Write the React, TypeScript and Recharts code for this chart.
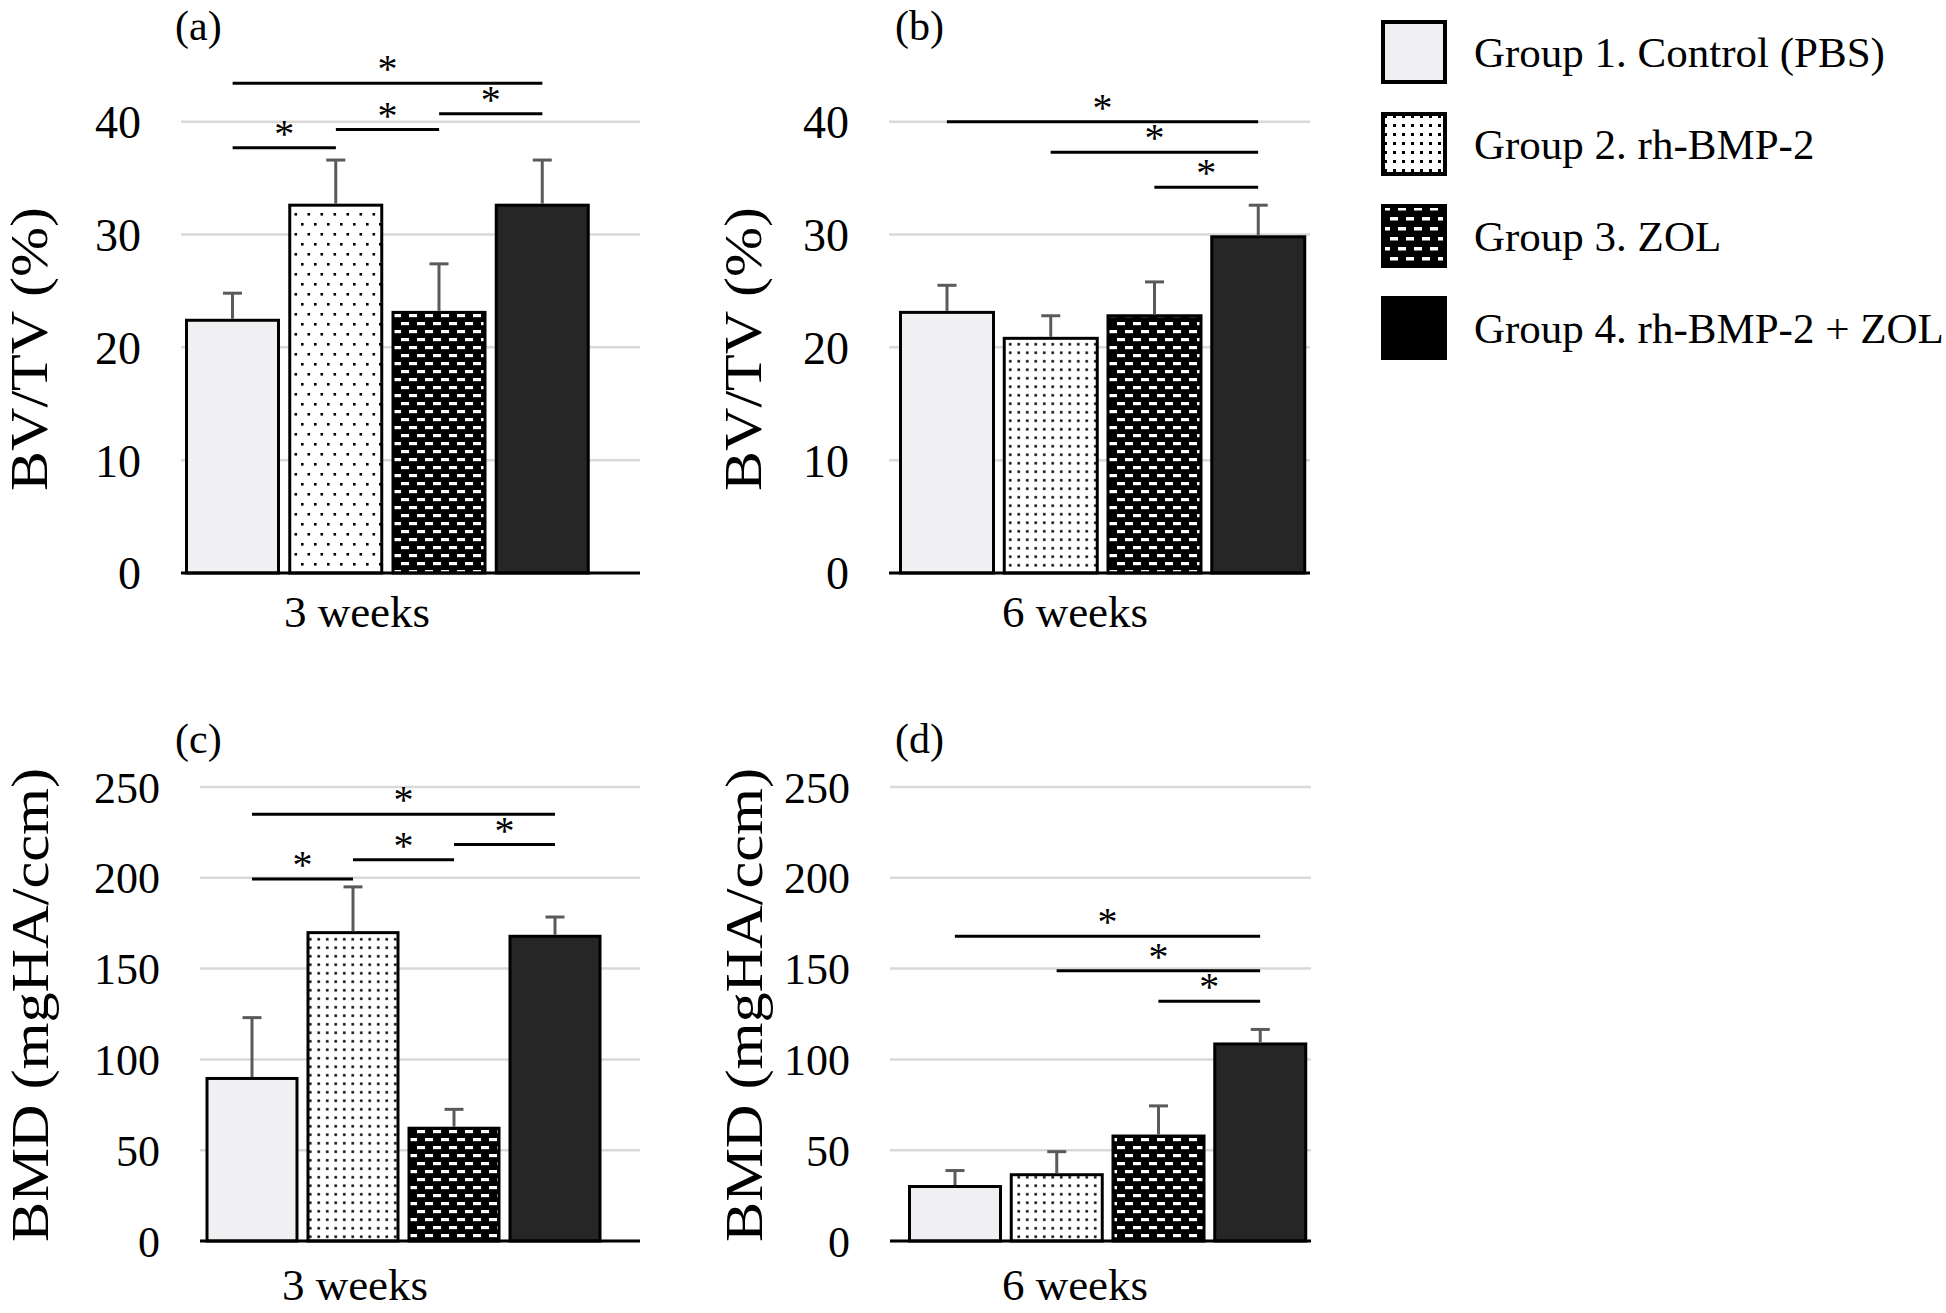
import React from "react";
import { Bar, BarChart, CartesianGrid, ReferenceLine, XAxis, YAxis } from "recharts";

const SERIF = "'Liberation Serif', 'Times New Roman', serif";

const GROUPS = [
  "Group 1. Control (PBS)",
  "Group 2. rh-BMP-2",
  "Group 3. ZOL",
  "Group 4. rh-BMP-2 + ZOL",
];
const GROUP_KEYS = ["g1", "g2", "g3", "g4"];

const BVTV_TICKS = [0, 10, 20, 30, 40];
const BMD_TICKS = [0, 50, 100, 150, 200, 250];

// BV/TV (%), mean and upper SD per group
const BVTV_3W = [22.4, 32.6, 23.1, 32.6];
const BVTV_3W_SD = [2.4, 4.0, 4.3, 4.0];
const BVTV_6W = [23.1, 20.8, 22.8, 29.8];
const BVTV_6W_SD = [2.4, 2.0, 3.0, 2.8];

// BMD (mgHA/ccm)
const BMD_3W = [89.5, 169.8, 62.1, 167.8];
const BMD_3W_SD = [33.5, 25.2, 10.4, 10.6];
const BMD_6W = [30.0, 36.5, 57.8, 108.5];
const BMD_6W_SD = [8.8, 12.7, 16.6, 8.0];

// significance brackets: [from group, to group, height on y axis]
const BVTV_3W_SIG = [[0, 3, 43.4], [0, 1, 37.7], [1, 2, 39.3], [2, 3, 40.7]];
const BVTV_6W_SIG = [[0, 3, 40.0], [1, 3, 37.3], [2, 3, 34.2]];
const BMD_3W_SIG = [[0, 3, 235], [0, 1, 199.3], [1, 2, 210], [2, 3, 218.3]];
const BMD_6W_SIG = [[0, 3, 167.8], [1, 3, 148.8], [2, 3, 132]];

const FILLS_SPARSE = ["#f0f0f2", "url(#dotsSparse)", "url(#bricks)", "#262626"];
const FILLS = ["#f0f0f2", "url(#dots)", "url(#bricks)", "#262626"];
const LEGEND_FILLS = ["#f0f0f2", "url(#dotsLegend)", "url(#bricksLegend)", "#000"];

interface Row {
  key: string;
  idx: number;
  mean: number;
  sd: number;
}

function buildRows(means: number[], sds: number[]): Row[] {
  return GROUP_KEYS.map((key, i) => ({ key, idx: i, mean: means[i], sd: sds[i] }));
}

const PANELS = [
  {
    id: "a", letter: "(a)", left: 0, top: 0, width: 660, height: 650,
    margin: { top: 54, right: 20, bottom: 17, left: 81 }, pad: { left: 0, right: 46 },
    yMax: 46, ticks: BVTV_TICKS, fontSize: 46, means: BVTV_3W, sds: BVTV_3W_SD, sig: BVTV_3W_SIG,
    fills: FILLS_SPARSE, yTitle: "BV/TV (%)", yPos: [47, 349], ySpan: 284,
    xTitle: "3 weeks", xPos: [357, 627], letterPos: [175, 5],
  },
  {
    id: "b", letter: "(b)", left: 700, top: 0, width: 630, height: 650,
    margin: { top: 54, right: 20, bottom: 17, left: 89 }, pad: { left: 6, right: 0 },
    yMax: 46, ticks: BVTV_TICKS, fontSize: 46, means: BVTV_6W, sds: BVTV_6W_SD, sig: BVTV_6W_SIG,
    fills: FILLS, yTitle: "BV/TV (%)", yPos: [61, 349], ySpan: 284,
    xTitle: "6 weeks", xPos: [375, 627], letterPos: [895, 5],
  },
  {
    id: "c", letter: "(c)", left: 0, top: 680, width: 660, height: 633,
    margin: { top: 85.2, right: 20, bottom: 12, left: 100 }, pad: { left: 1.5, right: 34.5 },
    yMax: 262, ticks: BMD_TICKS, fontSize: 44, means: BMD_3W, sds: BMD_3W_SD, sig: BMD_3W_SIG,
    fills: FILLS, yTitle: "BMD (mgHA/ccm)", yPos: [48, 325], ySpan: 474,
    xTitle: "3 weeks", xPos: [355, 620], letterPos: [175, 718],
  },
  {
    id: "d", letter: "(d)", left: 700, top: 680, width: 630, height: 633,
    margin: { top: 85.2, right: 19, bottom: 12, left: 90 }, pad: { left: 14, right: 0 },
    yMax: 262, ticks: BMD_TICKS, fontSize: 44, means: BMD_6W, sds: BMD_6W_SD, sig: BMD_6W_SIG,
    fills: FILLS, yTitle: "BMD (mgHA/ccm)", yPos: [62, 325], ySpan: 474,
    xTitle: "6 weeks", xPos: [375, 620], letterPos: [895, 718],
  },
];

type PanelCfg = (typeof PANELS)[number];

export default function App() {
  return (
    <div
      style={{
        position: "absolute", left: 0, top: 0, width: 1946, height: 1313,
        background: "#fff", overflow: "hidden", fontFamily: SERIF,
      }}
    >
      <PatternDefs />
      {PANELS.map((p) => (
        <Panel key={p.id} cfg={p} />
      ))}
      {PANELS.map((p) => (
        <div
          key={`l-${p.id}`}
          style={{
            position: "absolute", left: p.letterPos[0], top: p.letterPos[1],
            fontSize: 42, lineHeight: "42px", color: "#000",
          }}
        >
          {p.letter}
        </div>
      ))}
      <Legend />
    </div>
  );
}

function Panel({ cfg }: { cfg: PanelCfg }) {
  const data = buildRows(cfg.means, cfg.sds);
  return (
    <div style={{ position: "absolute", left: cfg.left, top: cfg.top }}>
      <BarChart
        width={cfg.width}
        height={cfg.height}
        data={data}
        margin={cfg.margin}
        barCategoryGap={5.5}
      >
        <CartesianGrid
          vertical={false}
          horizontalValues={cfg.ticks}
          stroke="#d9d9d9"
          strokeWidth={2.5}
        />
        <XAxis
          dataKey="key"
          tick={false}
          tickLine={false}
          axisLine={{ stroke: "#000", strokeWidth: 3 }}
          height={60}
          padding={cfg.pad}
          label={<AxisTitle tx={cfg.xPos[0]} ty={cfg.xPos[1]} caption={cfg.xTitle} size={45} />}
        />
        <YAxis
          width={100}
          domain={[0, cfg.yMax]}
          ticks={cfg.ticks}
          interval={0}
          tickSize={0}
          tickMargin={40}
          tickLine={false}
          axisLine={false}
          tick={{ fill: "#000", fontSize: cfg.fontSize, fontFamily: SERIF }}
          label={
            <AxisTitle
              tx={cfg.yPos[0]}
              ty={cfg.yPos[1]}
              caption={cfg.yTitle}
              size={52}
              span={cfg.ySpan}
              vertical
            />
          }
        />
        <Bar
          dataKey="mean"
          isAnimationActive={false}
          shape={(p: any) => <GroupBar {...p} fills={cfg.fills} />}
        />
        {cfg.sig.map(([a, b, y], i) => (
          <ReferenceLine
            key={i}
            segment={[
              { x: GROUP_KEYS[a], y },
              { x: GROUP_KEYS[b], y },
            ]}
            stroke="#000"
            strokeWidth={3}
            label={{
              value: "*", position: "top", offset: 1,
              fill: "#000", fontSize: 40, fontFamily: SERIF,
            }}
          />
        ))}
      </BarChart>
    </div>
  );
}

// bar rect + one-sided (upper) SD whisker
function GroupBar(props: any) {
  const { x, y, width, height, payload, fills } = props;
  const row = payload as Row;
  const errPx = row.mean > 0 ? (row.sd * height) / row.mean : 0;
  const cx = x + width / 2;
  const top = y - errPx;
  return (
    <g>
      <rect
        x={x} y={y} width={width} height={height}
        fill={fills[row.idx]} stroke="#000" strokeWidth={3}
      />
      <line x1={cx} x2={cx} y1={y - 1.5} y2={top} stroke="#5a5a5a" strokeWidth={3} />
      <line x1={cx - 9.5} x2={cx + 9.5} y1={top} y2={top} stroke="#5a5a5a" strokeWidth={3} />
    </g>
  );
}

function AxisTitle({
  tx, ty, caption, size, span, vertical,
}: {
  tx: number; ty: number; caption: string; size: number; span?: number; vertical?: boolean;
}) {
  return (
    <text
      x={tx}
      y={ty}
      textAnchor="middle"
      fontFamily={SERIF}
      fontSize={size}
      fill="#000"
      textLength={span}
      lengthAdjust={span ? "spacingAndGlyphs" : undefined}
      transform={vertical ? `rotate(-90 ${tx} ${ty})` : undefined}
    >
      {caption}
    </text>
  );
}

function Legend() {
  return (
    <div style={{ position: "absolute", left: 1381, top: 6 }}>
      {GROUPS.map((g, i) => (
        <div key={g} style={{ display: "flex", alignItems: "center", height: 92 }}>
          <svg width={66} height={64}>
            <rect x={2} y={2} width={62} height={60} fill={LEGEND_FILLS[i]} stroke="#000" strokeWidth={4} />
          </svg>
          <span style={{ marginLeft: 27, fontSize: 43, color: "#000", whiteSpace: "nowrap" }}>{g}</span>
        </div>
      ))}
    </div>
  );
}

function PatternDefs() {
  return (
    <svg width={0} height={0} style={{ position: "absolute" }}>
      <defs>
        <pattern id="dotsSparse" width={13} height={20} patternUnits="userSpaceOnUse">
          <rect width={13} height={20} fill="#fff" />
          <rect x={2} y={3} width={2.6} height={2.6} fill="#000" />
          <rect x={8.5} y={13} width={2.6} height={2.6} fill="#000" />
        </pattern>
        <pattern id="dots" width={8.5} height={8.5} patternUnits="userSpaceOnUse">
          <rect width={8.5} height={8.5} fill="#fff" />
          <rect x={3} y={3} width={2.5} height={2.5} fill="#000" />
        </pattern>
        <pattern id="dotsLegend" width={9} height={9} patternUnits="userSpaceOnUse">
          <rect width={9} height={9} fill="#fff" />
          <rect x={3} y={3} width={3} height={3} fill="#000" />
        </pattern>
        <pattern id="bricks" width={16} height={16} patternUnits="userSpaceOnUse">
          <rect width={16} height={16} fill="#000" />
          <rect x={1} y={2} width={8} height={3.2} fill="#fff" />
          <rect x={9} y={10} width={8} height={3.2} fill="#fff" />
          <rect x={-7} y={10} width={8} height={3.2} fill="#fff" />
        </pattern>
        <pattern id="bricksLegend" width={16} height={20} patternUnits="userSpaceOnUse">
          <rect width={16} height={20} fill="#000" />
          <rect x={1} y={3} width={8} height={3.5} fill="#fff" />
          <rect x={9} y={13} width={8} height={3.5} fill="#fff" />
          <rect x={-7} y={13} width={8} height={3.5} fill="#fff" />
        </pattern>
      </defs>
    </svg>
  );
}
